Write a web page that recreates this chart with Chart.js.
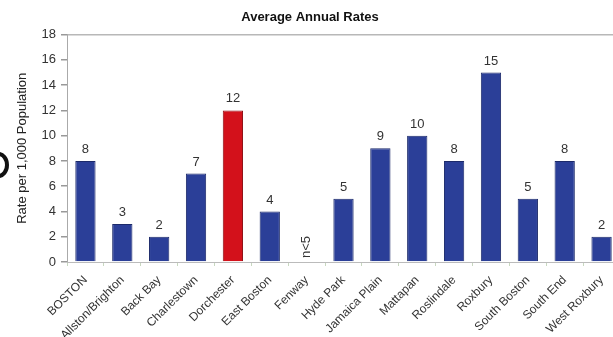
<!DOCTYPE html>
<html>
<head>
<meta charset="utf-8">
<script src="https://cdn.jsdelivr.net/npm/chart.js@4"></script>
<style>
  html, body { margin: 0; padding: 0; background: #fff; overflow: hidden; }
  #wrap { position: relative; width: 620px; height: 337px; }
  #dot { position: absolute; left: -12px; top: 152px; width: 21px; height: 26px; border-radius: 50%; border: 4px solid #111; box-sizing: border-box; }
</style>
</head>
<body>
<div id="wrap">
  <canvas id="rates" width="620" height="337"></canvas>
  <div id="dot"></div>
</div>
<script>
// neighborhoods along the x axis
const neighborhoods = ["BOSTON", "Allston/Brighton", "Back Bay", "Charlestown", "Dorchester",
    "East Boston", "Fenway", "Hyde Park", "Jamaica Plain", "Mattapan", "Roslindale",
    "Roxbury", "South Boston", "South End", "West Roxbury"];
// rate per 1,000 population (Fenway suppressed, n<5)
const rates = [8, 3, 2, 7, 12, 4, null, 5, 9, 10, 8, 15, 5, 8, 2];
const highlighted = "Dorchester";

const blue = "#2b3f98";
const red = "#d3111b";
const fontFamily = "'Liberation Sans', Arial, sans-serif";

const barColors = neighborhoods.map((n) => (n == highlighted ? red : blue));
const borderColors = neighborhoods.map((n) => (n == highlighted ? "#8a0b10" : "#1c2a6a"));

// writes the value above each bar, or n<5 where there is no value
const valueLabels = {
    id: "valueLabels",
    afterDatasetsDraw(chart) {
        const ctx = chart.ctx;
        const meta = chart.getDatasetMeta(0);
        const yScale = chart.scales.y;
        ctx.save();
        ctx.fillStyle = "#333";
        ctx.font = "13px " + fontFamily;
        meta.data.forEach((bar, i) => {
            const v = rates[i];
            if (v == null) {
                ctx.save();
                ctx.translate(bar.x, yScale.getPixelForValue(0) - 4);
                ctx.rotate(-Math.PI / 2);
                ctx.textAlign = "left";
                ctx.textBaseline = "middle";
                ctx.fillText("n<5", 0, 0);
                ctx.restore();
            } else {
                ctx.textAlign = "center";
                ctx.textBaseline = "bottom";
                ctx.fillText(String(v), bar.x, bar.y - 5);
            }
        });
        ctx.restore();
    },
};

new Chart(document.getElementById("rates"), {
    type: "bar",
    data: {
        labels: neighborhoods,
        datasets: [{
            data: rates,
            backgroundColor: barColors,
            borderColor: borderColors,
            borderWidth: 1,
            barPercentage: 0.55,
            categoryPercentage: 1,
        }],
    },
    options: {
        responsive: false,
        animation: false,
        layout: { padding: 0 },
        plugins: {
            legend: { display: false },
            tooltip: { enabled: false },
            title: {
                display: true,
                text: "Average Annual Rates",
                color: "#111",
                font: { family: fontFamily, size: 13, weight: "bold" },
                padding: { top: 10, bottom: 9 },
            },
        },
        scales: {
            y: {
                min: 0,
                max: 18,
                afterFit: (scale) => { scale.width = 67; },
                ticks: {
                    stepSize: 2,
                    color: "#333",
                    font: { family: fontFamily, size: 13 },
                    padding: 5,
                },
                grid: {
                    color: (c) => (c.tick && c.tick.value == 18 ? "#b8b8b8" : "rgba(0,0,0,0)"),
                    tickColor: "#999",
                    tickLength: 6,
                    lineWidth: 1.5,
                },
                border: { display: true, color: "#aaa" },
                title: {
                    display: true,
                    text: "Rate per 1,000 Population",
                    color: "#222",
                    font: { family: fontFamily, size: 13 },
                    padding: { top: 15, bottom: 0 },
                },
            },
            x: {
                offset: true,
                afterFit: (scale) => { scale.height = 75; },
                ticks: {
                    minRotation: 45,
                    maxRotation: 45,
                    autoSkip: false,
                    color: "#333",
                    font: { family: fontFamily, size: 12 },
                    padding: 7,
                },
                grid: {
                    offset: true,
                    drawOnChartArea: false,
                    tickColor: "#c8d8c0",
                    tickLength: 4,
                },
                border: { display: true, color: "#bbb" },
            },
        },
    },
    plugins: [valueLabels],
});
</script>
</body>
</html>
